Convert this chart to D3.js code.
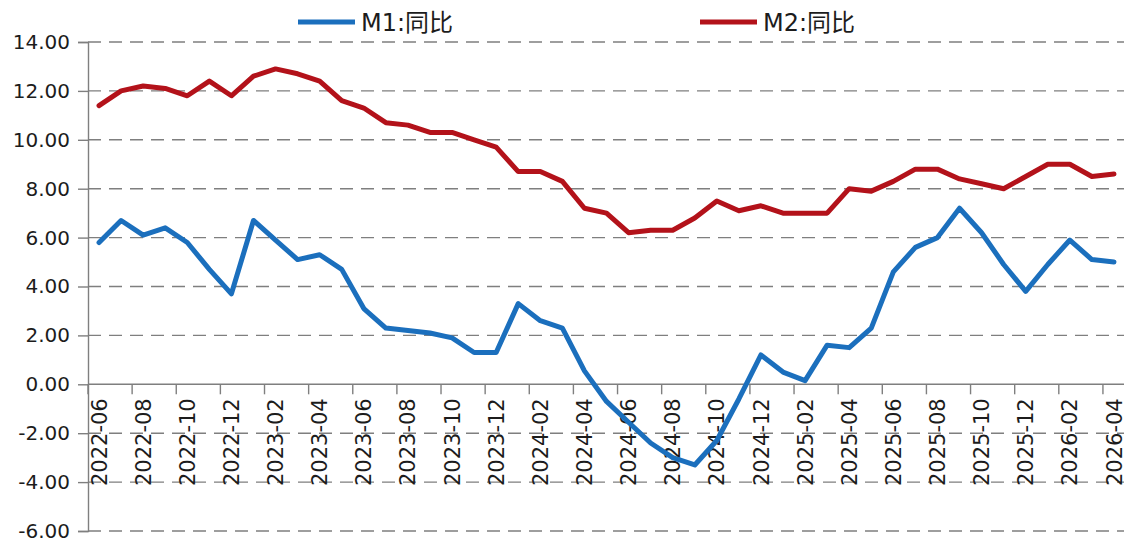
<!DOCTYPE html>
<html>
<head>
<meta charset="utf-8">
<script src="https://cdn.jsdelivr.net/npm/d3@7"></script>
<style>
  html, body { margin: 0; padding: 0; background: #fff; }
  svg { display: block; }
  text { font-family: "DejaVu Sans", "Noto Sans CJK SC", sans-serif; fill: #1c1c1c; }
</style>
</head>
<body>
<svg id="chart" width="1124" height="540"></svg>
<script>
// Months on the category axis
const months = [
  "2022-06","2022-07","2022-08","2022-09","2022-10","2022-11","2022-12",
  "2023-01","2023-02","2023-03","2023-04","2023-05","2023-06","2023-07","2023-08","2023-09","2023-10","2023-11","2023-12",
  "2024-01","2024-02","2024-03","2024-04","2024-05","2024-06","2024-07","2024-08","2024-09","2024-10","2024-11","2024-12",
  "2025-01","2025-02","2025-03","2025-04","2025-05","2025-06","2025-07","2025-08","2025-09","2025-10","2025-11","2025-12",
  "2026-01","2026-02","2026-03","2026-04"
];

// M1 year-on-year growth (%)
const m1 = [
  5.8, 6.7, 6.1, 6.4, 5.8, 4.7, 3.7,
  6.7, 5.9, 5.1, 5.3, 4.7, 3.1, 2.3, 2.2, 2.1, 1.9, 1.3, 1.3,
  3.3, 2.6, 2.3, 0.55, -0.7, -1.55, -2.4, -3.0, -3.3, -2.3, -0.6, 1.2,
  0.5, 0.15, 1.6, 1.5, 2.3, 4.6, 5.6, 6.0, 7.2, 6.2, 4.9, 3.8,
  4.9, 5.9, 5.1, 5.0
];

// M2 year-on-year growth (%)
const m2 = [
  11.4, 12.0, 12.2, 12.1, 11.8, 12.4, 11.8,
  12.6, 12.9, 12.7, 12.4, 11.6, 11.3, 10.7, 10.6, 10.3, 10.3, 10.0, 9.7,
  8.7, 8.7, 8.3, 7.2, 7.0, 6.2, 6.3, 6.3, 6.8, 7.5, 7.1, 7.3,
  7.0, 7.0, 7.0, 8.0, 7.9, 8.3, 8.8, 8.8, 8.4, 8.2, 8.0, 8.5,
  9.0, 9.0, 8.5, 8.6
];

const yTicks = [-6, -4, -2, 0, 2, 4, 6, 8, 10, 12, 14];
const seriesNames = ["M1:同比", "M2:同比"];
const seriesColors = ["#1b6fbd", "#b3121a"];

const svg = d3.select("#chart");
const plot = { left: 88, right: 1125, top: 42, bottom: 531 };

const x = d3.scaleBand().domain(months).range([plot.left, plot.right]).paddingInner(0).paddingOuter(0);
const y = d3.scaleLinear().domain([-6, 14]).range([plot.bottom, plot.top]);
const cx = d => x(d) + x.bandwidth() / 2;

// Dashed horizontal gridlines
svg.append("g")
  .selectAll("line")
  .data(yTicks.filter(v => v !== 0))
  .join("line")
  .attr("x1", plot.left).attr("x2", plot.right)
  .attr("y1", d => y(d)).attr("y2", d => y(d))
  .attr("stroke", "#7f7f7f")
  .attr("stroke-width", 1.4)
  .attr("stroke-dasharray", "13,8");

// Value axis on the left
const yAxis = d3.axisLeft(y)
  .tickValues(yTicks)
  .tickFormat(d => d.toFixed(2))
  .tickSize(10)
  .tickPadding(8);
const gy = svg.append("g").attr("transform", `translate(${plot.left},0)`).call(yAxis);
gy.select(".domain").attr("stroke", "#7f7f7f").attr("stroke-width", 1.4);
gy.selectAll(".tick line").attr("stroke", "#7f7f7f").attr("stroke-width", 1.4);
gy.selectAll(".tick text")
  .attr("font-size", 20)
  .attr("font-family", "DejaVu Sans")
  .attr("fill", "#1c1c1c");

// Category axis crossing at zero
const gx = svg.append("g");
gx.append("line")
  .attr("x1", plot.left).attr("x2", plot.right)
  .attr("y1", y(0)).attr("y2", y(0))
  .attr("stroke", "#7f7f7f").attr("stroke-width", 1.4);

const labelled = months.filter((m, i) => i % 2 === 0);

gx.selectAll("line.tick")
  .data(labelled)
  .join("line")
  .attr("class", "tick")
  .attr("x1", d => x(d)).attr("x2", d => x(d))
  .attr("y1", y(0)).attr("y2", y(0) + 10)
  .attr("stroke", "#7f7f7f").attr("stroke-width", 1.4);

gx.selectAll("text")
  .data(labelled)
  .join("text")
  .attr("transform", d => `translate(${cx(d)},${y(0) + 14}) rotate(-90)`)
  .attr("text-anchor", "end")
  .attr("dy", "0.36em")
  .attr("font-size", 21)
  .attr("font-family", "DejaVu Sans")
  .attr("fill", "#1c1c1c")
  .text(d => d);

// Series lines
const line = d3.line()
  .x((d, i) => cx(months[i]))
  .y(d => y(d));

[m1, m2].forEach((vals, k) => {
  svg.append("path")
    .datum(vals)
    .attr("fill", "none")
    .attr("stroke", seriesColors[k])
    .attr("stroke-width", 5)
    .attr("stroke-linejoin", "round")
    .attr("stroke-linecap", "round")
    .attr("d", line);
});

// Legend
const legendX = [298, 700];
const legend = svg.append("g");
seriesNames.forEach((name, k) => {
  legend.append("line")
    .attr("x1", legendX[k]).attr("x2", legendX[k] + 57)
    .attr("y1", 22).attr("y2", 22)
    .attr("stroke", seriesColors[k])
    .attr("stroke-width", 5);
  legend.append("text")
    .attr("x", legendX[k] + 63)
    .attr("y", 22)
    .attr("dy", "0.36em")
    .attr("font-size", 24)
    .attr("fill", "#1c1c1c")
    .text(name);
});
</script>
</body>
</html>
